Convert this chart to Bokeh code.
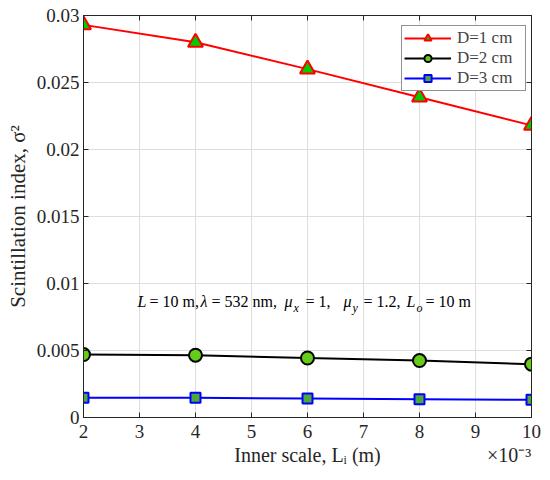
from bokeh.plotting import figure
from bokeh.models import Range1d, FixedTicker, LinearAxis, Label, Legend, LegendItem
from bokeh.embed import file_html
from bokeh.resources import INLINE

# data (x in units of 1e-3 m)
inner_scale = [2, 4, 6, 8, 10]
si_d1 = [0.0293, 0.0280, 0.0260, 0.0239, 0.0218]
si_d2 = [0.00470, 0.00465, 0.00444, 0.00425, 0.00398]
si_d3 = [0.00147, 0.00147, 0.00142, 0.00137, 0.00132]
series_names = ["D=1 cm", "D=2 cm", "D=3 cm"]

x_ticks = [2, 3, 4, 5, 6, 7, 8, 9, 10]
y_ticks = [0, 0.005, 0.01, 0.015, 0.02, 0.025, 0.03]
y_tick_labels = ["0", "0.005", "0.01", "0.015", "0.02", "0.025", "0.03"]

x_title = "Inner scale, L\u1d62 (m)"
x_multiplier = "\u00d710\u207b\u00b3"
y_title = "Scintillation index, \u03c3\u00b2"

FONT = "Liberation Serif"
AX = "#262626"
W, H = 545, 475

p = figure(width=W, height=H, x_range=Range1d(2, 10), y_range=Range1d(0, 0.03),
           output_backend="svg", toolbar_location=None,
           min_border_left=83, min_border_right=14, min_border_top=15, min_border_bottom=58)
p.background_fill_color = "white"
p.border_fill_color = "white"
p.outline_line_color = AX
p.outline_line_width = 1

# axes
for ax in [p.xaxis[0], p.yaxis[0]]:
    ax.major_tick_in = 5
    ax.major_tick_out = 0
    ax.minor_tick_line_color = None
    ax.axis_line_color = AX
    ax.major_tick_line_color = AX
    ax.major_label_text_font = FONT
    ax.major_label_text_font_size = "19px"
    ax.major_label_text_color = AX
p.xaxis.ticker = FixedTicker(ticks=x_ticks)
p.yaxis.ticker = FixedTicker(ticks=y_ticks)
p.yaxis.major_label_overrides = {t: s for t, s in zip(y_ticks, y_tick_labels)}
p.xaxis.major_label_standoff = 7
p.yaxis.major_label_standoff = 4
p.yaxis.axis_label = y_title
p.yaxis.axis_label_text_font = FONT
p.yaxis.axis_label_text_font_size = "21px"
p.yaxis.axis_label_text_font_style = "normal"
p.yaxis.axis_label_text_color = AX
p.yaxis.axis_label_standoff = 4

# x title and the x10^-3 multiplier share one row under the tick labels
title_row = LinearAxis(ticker=FixedTicker(ticks=[6.0, 9.6]),
                       major_label_overrides={6.0: x_title, 9.6: x_multiplier},
                       axis_line_color=None, major_tick_line_color=None,
                       minor_tick_line_color=None, major_tick_in=0, major_tick_out=0,
                       major_label_standoff=3, major_label_text_font=FONT,
                       major_label_text_font_size="20px", major_label_text_color=AX)
p.add_layout(title_row, "below")

# ticks on top and right (box on), no labels there
top = LinearAxis(ticker=FixedTicker(ticks=x_ticks), major_label_text_font_size="1px",
                 major_label_text_color=None, major_tick_in=5, major_tick_out=0,
                 minor_tick_line_color=None, axis_line_color=AX,
                 major_tick_line_color=AX, major_label_standoff=0)
right = LinearAxis(ticker=FixedTicker(ticks=y_ticks), major_label_text_font_size="1px",
                   major_label_text_color=None, major_tick_in=5, major_tick_out=0,
                   minor_tick_line_color=None, axis_line_color=AX,
                   major_tick_line_color=AX, major_label_standoff=0)
p.add_layout(top, "above")
p.add_layout(right, "right")

p.xgrid.ticker = FixedTicker(ticks=x_ticks)
p.ygrid.ticker = FixedTicker(ticks=y_ticks)
p.grid.grid_line_color = "#dedede"
p.grid.grid_line_width = 1

# series
l1 = p.line(inner_scale, si_d1, line_color="#ff0000", line_width=2)
m1 = p.scatter(inner_scale, si_d1, marker="triangle", size=15, fill_color="#00cc00",
               line_color="#ff0000", line_width=2)
l2 = p.line(inner_scale, si_d2, line_color="#000000", line_width=2)
m2 = p.scatter(inner_scale, si_d2, marker="circle", size=13, fill_color="#66cc1a",
               line_color="#000000", line_width=2)
l3 = p.line(inner_scale, si_d3, line_color="#0000ff", line_width=2)
m3 = p.scatter(inner_scale, si_d3, marker="square", size=10, fill_color="#4fa83a",
               line_color="#0000ff", line_width=2)

legend = Legend(items=[LegendItem(label=series_names[0], renderers=[l1, m1]),
                       LegendItem(label=series_names[1], renderers=[l2, m2]),
                       LegendItem(label=series_names[2], renderers=[l3, m3])],
                location=(318, 326))
legend.label_text_font = FONT
legend.label_text_font_size = "17px"
legend.glyph_width = 47
legend.glyph_height = 18
legend.label_height = 18
legend.label_width = 66
legend.label_standoff = 6
legend.spacing = 0
legend.padding = 2
legend.margin = 0
legend.border_line_color = AX
legend.border_line_width = 1
legend.background_fill_alpha = 1
p.add_layout(legend, "center")


# annotation inside the axes, placed by canvas pixel
def put(px, py, txt, size, style="normal"):
    p.add_layout(Label(x=px, y=py, x_units="canvas", y_units="canvas", text=txt,
                       text_font=FONT, text_font_size="%spx" % size,
                       text_font_style=style, text_align="left",
                       text_baseline="alphabetic", text_color="#000000"))


put(137, 301, "L", 16, "italic")
put(149, 301, "= 10 m,", 16)
put(200, 301, "\u03bb", 16, "italic")
put(211, 301, "= 532 nm,", 16)
put(284, 301, "\u03bc", 16, "italic")
put(293, 307, "x", 12, "italic")
put(305, 301, "= 1,", 16)
put(343, 301, "\u03bc", 16, "italic")
put(352, 307, "y", 12, "italic")
put(363, 301, "= 1.2,", 16)
put(406, 301, "L", 16, "italic")
put(416, 307, "o", 12, "italic")
put(425, 301, "= 10 m", 16)

open("out.html", "w").write(file_html(p, INLINE))
